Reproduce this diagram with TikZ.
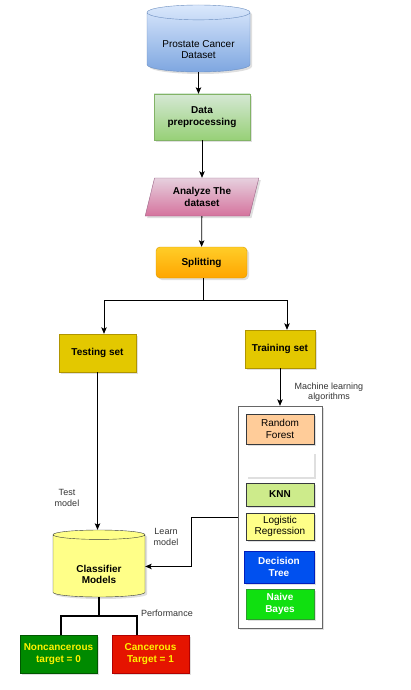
\documentclass[tikz,border=0pt]{standalone}
\usepackage{fontspec}
\setmainfont{Liberation Sans}
\usetikzlibrary{shapes.geometric,shadows,arrows.meta}

\definecolor{dsTop}{HTML}{DAE8FC}
\definecolor{dsBot}{HTML}{7EA6E0}
\definecolor{dsLine}{HTML}{6C8EBF}
\definecolor{ppTop}{HTML}{D5E8D4}
\definecolor{ppBot}{HTML}{97D077}
\definecolor{ppLine}{HTML}{82B366}
\definecolor{anTop}{HTML}{E6D0DE}
\definecolor{anBot}{HTML}{D5739D}
\definecolor{anLine}{HTML}{996185}
\definecolor{spTop}{HTML}{FFCD28}
\definecolor{spBot}{HTML}{FFA500}
\definecolor{spLine}{HTML}{D79B00}
\definecolor{setFill}{HTML}{E3C800}
\definecolor{setLine}{HTML}{B09500}
\definecolor{rfFill}{HTML}{FFCC99}
\definecolor{knnFill}{HTML}{CDEB8B}
\definecolor{lrFill}{HTML}{FFFF88}
\definecolor{algLine}{HTML}{36393D}
\definecolor{dtFill}{HTML}{0050EF}
\definecolor{dtLine}{HTML}{001DBC}
\definecolor{nbFill}{HTML}{10E010}
\definecolor{nbLine}{HTML}{2D9A2D}
\definecolor{ncFill}{HTML}{008A00}
\definecolor{ncLine}{HTML}{005700}
\definecolor{caFill}{HTML}{E51400}
\definecolor{caLine}{HTML}{B20000}
\definecolor{lblText}{HTML}{333333}

\newcommand{\boxfont}{\fontsize{10}{11.5}\selectfont}
\newcommand{\drumgap}[1]{\rule{0pt}{#1}}

\tikzset{
  castshadow/.style={drop shadow={shadow xshift=2pt, shadow yshift=-2pt, opacity=0.25}},
  box/.style={draw, rectangle, align=center, inner sep=1pt, font=\boxfont\bfseries, castshadow},
  drum/.style={draw, cylinder, shape border rotate=90, aspect=0.2, align=center,
    inner sep=1pt, anchor=shape center, castshadow},
  lbl/.style={align=center, inner sep=0pt, text=lblText, font=\fontsize{9}{10.5}\selectfont},
  conn/.style={-{Stealth[length=6.5pt,width=5.5pt,inset=1.5pt]}, line width=0.8pt},
}

\begin{document}
\begin{tikzpicture}[x=1pt,y=-1pt]
\useasboundingbox (0,0) rectangle (410,690);

\node[drum, top color=dsTop, bottom color=dsBot, draw=dsLine, font=\boxfont,
  minimum width=103pt, minimum height=67pt] (dataset) at (198.5,38.5)
{\drumgap{20pt}Prostate Cancer\\Dataset};
\node[box, top color=ppTop, bottom color=ppBot, draw=ppLine,
  minimum width=96pt, minimum height=46pt] (prep) at (202,117)
{Data\\preprocessing};
\node[box, trapezium, trapezium left angle=74, trapezium right angle=106,
  trapezium stretches=true,
  top color=anTop, bottom color=anBot, draw=anLine,
  minimum width=114pt, minimum height=38pt] (analyze) at (202,197)
{Analyze The\\dataset};
\node[box, rounded corners=4pt, top color=spTop, bottom color=spBot, draw=spLine,
  minimum width=91pt, minimum height=31pt] (split) at (201.5,262.5)
{Splitting};

\node[box, fill=setFill, draw=setLine, minimum width=77pt, minimum height=38pt]
  (test) at (97.5,353) {Testing set};
\node[box, fill=setFill, draw=setLine, minimum width=70pt, minimum height=38pt]
  (train) at (280,349) {Training set};

% algorithms
\node[draw=gray!80!black, fill=white, castshadow, minimum width=84pt, minimum height=222pt]
  (alg) at (280,517) {};
\node[box, font=\boxfont, fill=rfFill, draw=algLine, minimum width=68pt, minimum height=30pt]
  (rf) at (280,429) {Random\\Forest};
\node[fill=white, castshadow, minimum width=68pt, minimum height=25pt]
  (blank) at (280,464.5) {};
\node[box, fill=knnFill, draw=algLine, minimum width=68pt, minimum height=23pt]
  (knn) at (280,494.5) {KNN};
\node[box, font=\boxfont, fill=lrFill, draw=algLine, minimum width=68pt, minimum height=27pt]
  (lr) at (280,526.5) {Logistic\\Regression};
\node[box, fill=dtFill, draw=dtLine, text=white, minimum width=70pt, minimum height=32pt]
  (dt) at (279,567) {Decision\\Tree};
\node[box, fill=nbFill, draw=nbLine, text=white, minimum width=68pt, minimum height=30pt]
  (nb) at (280,604) {Naive\\Bayes};

\node[drum, fill=lrFill, draw=algLine, font=\boxfont\bfseries,
  minimum width=92pt, minimum height=67pt] (clf) at (99,563.5)
{\drumgap{23pt}Classifier\\Models};

\node[box, fill=ncFill, draw=ncLine, text=yellow, minimum width=77pt, minimum height=38pt]
  (noncan) at (58.5,654) {Noncancerous\\target = 0};
\node[box, fill=caFill, draw=caLine, text=yellow, minimum width=77pt, minimum height=38pt]
  (can) at (150.5,654) {Cancerous\\Target = 1};

% labels
\node[lbl] (mll) at (329,392) {Machine learning\\algorithms};
\node[lbl] (tml) at (67,498) {Test\\model};
\node[lbl] (lml) at (166,537) {Learn\\model};
\node[lbl] (pfl) at (167,613) {Performance};

\draw[conn] (dataset.south) -- (dataset.south |- prep.north);
\draw[conn] (prep) -- (analyze);
\draw[conn] (analyze) -- (split);
\coordinate (fork) at (203,300);
\draw[line width=0.8pt] (split.south -| fork) -- (fork);
\draw[conn] (fork) -| ([xshift=6.5pt]test.north);
\draw[conn] (fork) -| ([xshift=7pt]train.north);
\draw[conn] (test.south) -- (test.south |- clf.north);
\draw[conn] (train) -- (train |- alg.north);
\draw[conn] (alg.west) -- ++(-46,0) |- (clf.east);
\draw[line width=1.5pt] (clf.south) -- ++(0,19) coordinate (perf);
\draw[line width=1.5pt] (perf) -| ([xshift=2.5pt]noncan.north);
\draw[line width=1.5pt] (perf) -| ([xshift=-13.5pt]can.north);
\end{tikzpicture}
\end{document}
